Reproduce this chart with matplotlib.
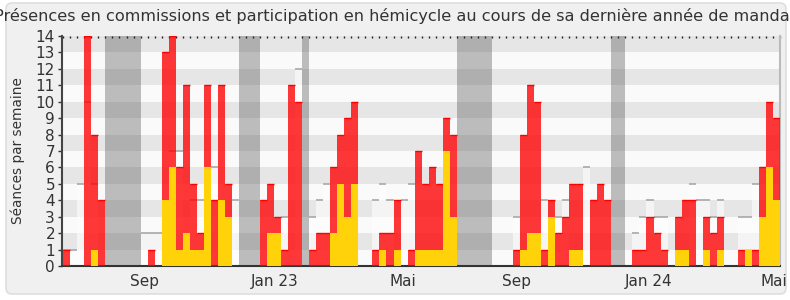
"""Présences en commissions et participation en hémicycle - bar chart."""

import matplotlib

matplotlib.use("Agg")
import matplotlib.pyplot as plt
import numpy as np
from matplotlib.patches import FancyBboxPatch
from matplotlib.transforms import IdentityTransform

TITLE = ("Présences en commissions et participation en hémicycle "
         "au cours de sa dernière année de mandat")
YLABEL = "Séances par semaine"

# one value per week (index 0 = first week shown)
COMMISSION = [
    1, 0, 0, 14, 8, 4, 0, 0, 0, 0,
    0, 0, 1, 0, 13, 14, 6, 11, 5, 2,
    11, 4, 11, 5, 0, 0, 0, 0, 4, 5,
    3, 1, 11, 10, 0, 1, 2, 2, 6, 8,
    9, 10, 0, 0, 1, 2, 2, 4, 0, 1,
    7, 5, 6, 5, 9, 8, 0, 0, 0, 0,
    0, 0, 0, 0, 1, 8, 11, 10, 1, 4,
    2, 3, 5, 5, 0, 4, 5, 4, 0, 0,
    0, 1, 1, 3, 2, 1, 0, 3, 4, 4,
    0, 3, 2, 3, 0, 0, 1, 1, 1, 6,
    10, 9,
]
HEMICYCLE = [
    0, 0, 0, 0, 1, 0, 0, 0, 0, 0,
    0, 0, 0, 0, 4, 6, 1, 2, 1, 1,
    6, 0, 4, 3, 0, 0, 0, 0, 0, 2,
    2, 0, 0, 0, 0, 0, 0, 0, 2, 5,
    3, 5, 0, 0, 0, 1, 0, 1, 0, 0,
    1, 1, 1, 1, 7, 3, 0, 0, 0, 0,
    0, 0, 0, 0, 0, 1, 2, 2, 0, 3,
    0, 0, 1, 1, 0, 0, 0, 0, 0, 0,
    0, 0, 0, 0, 0, 0, 0, 1, 1, 0,
    0, 1, 0, 1, 0, 0, 0, 1, 0, 3,
    6, 4,
]
MEDIANE = [
    1, 1, 5, 10, 5, 0, 0, 0, 0, 0,
    0, 2, 2, 2, 0, 7, 7, 0, 4, 4,
    0, 6, 0, 0, 4, 0, 0, 0, 0, 0,
    0, 3, 0, 12, 0, 3, 4, 5, 0, 0,
    0, 0, 0, 0, 4, 5, 4, 0, 4, 5,
    0, 0, 0, 0, 0, 0, 0, 0, 0, 0,
    0, 0, 0, 0, 3, 0, 0, 0, 4, 0,
    3, 4, 0, 0, 6, 0, 0, 0, 0, 0,
    0, 2, 3, 4, 3, 3, 0, 0, 0, 5,
    4, 4, 3, 4, 0, 0, 3, 3, 5, 0,
    0, 0,
]
VACANCES = [6, 7, 8, 9, 10, 25, 26, 27, 34, 56, 57, 58, 59, 60, 78, 79]
MONTH_LABELS = ["Sep", "Jan 23", "Mai", "Sep", "Jan 24", "Mai"]
MONTH_WEEKS = [11.5, 30.1, 48.4, 64.5, 83.3, 101.1]
YMAX = 14

weeks = np.arange(len(COMMISSION))

fig = plt.figure(figsize=(7.9, 3.0), dpi=100)
fig.patch.set_facecolor("white")
frame = FancyBboxPatch((6, 6), 780, 291, boxstyle="round,pad=0,rounding_size=6",
                       transform=IdentityTransform(), fc="#f0f0f0", ec="#dedede",
                       lw=1.2, zorder=-10)
fig.patches.append(frame)

ax = fig.add_axes([62 / 790, 1 - 266 / 300, (780 - 62) / 790, (266 - 36) / 300])
ax.set_facecolor("#fafafa")
for v in range(YMAX):
    ax.axhspan(v, v + 1, color="#fafafa" if v % 2 == 0 else "#e6e6e6", lw=0, zorder=0)

for w in VACANCES:
    ax.axvspan(w, w + 1, color="#464646", alpha=0.34, lw=0, zorder=1)

med_w = [w for w, m in zip(weeks, MEDIANE) if m > 0]
med_v = [m for m in MEDIANE if m > 0]
ax.bar(weeks, MEDIANE, width=1, align="edge", color="white", alpha=0.6, lw=0, zorder=2)
ax.hlines(med_v, med_w, [w + 1 for w in med_w], color="#a8a8a8", lw=1.2, zorder=2)

com_w = [w for w, c in zip(weeks, COMMISSION) if c > 0]
com_v = [c for c in COMMISSION if c > 0]
ax.bar(weeks, COMMISSION, width=1, align="edge", color="#ff0000", alpha=0.78, lw=0, zorder=3)
ax.hlines(com_v, com_w, [w + 1 for w in com_w], color="#ff0000", lw=1, zorder=3)
ax.bar(weeks, HEMICYCLE, width=1, align="edge", color="#ffd20a", lw=0, zorder=4)

ax.set_xlim(-0.18, 101.37)
ax.set_ylim(0, YMAX)
ax.set_yticks(range(YMAX + 1))
ax.set_xticks(MONTH_WEEKS)
ax.set_xticklabels(MONTH_LABELS)
ax.set_xticks(np.arange(len(COMMISSION) + 1), minor=True)
ax.tick_params(axis="x", which="major", length=0, labelsize=11, colors="#333333", pad=6)
ax.tick_params(axis="x", which="minor", bottom=False, top=True, direction="in",
               length=1.5, width=1, color="#222222")
ax.tick_params(axis="y", length=3, width=1, labelsize=11, colors="#333333", pad=2)
ax.set_ylabel(YLABEL, fontsize=9.8, color="#333333", labelpad=8)

ax.spines["top"].set_visible(False)
ax.spines["right"].set_color("#bbbbbb")
ax.spines["right"].set_linewidth(1.5)
ax.spines["left"].set_color("#444444")
ax.spines["left"].set_linewidth(1.5)
ax.spines["bottom"].set_color("#333333")
ax.spines["bottom"].set_linewidth(1.5)

fig.text(0.5, 1 - 16 / 300, TITLE, ha="center", va="center", fontsize=11.6, color="#333333")

plt.savefig("out.png", dpi=100, facecolor=fig.get_facecolor())
